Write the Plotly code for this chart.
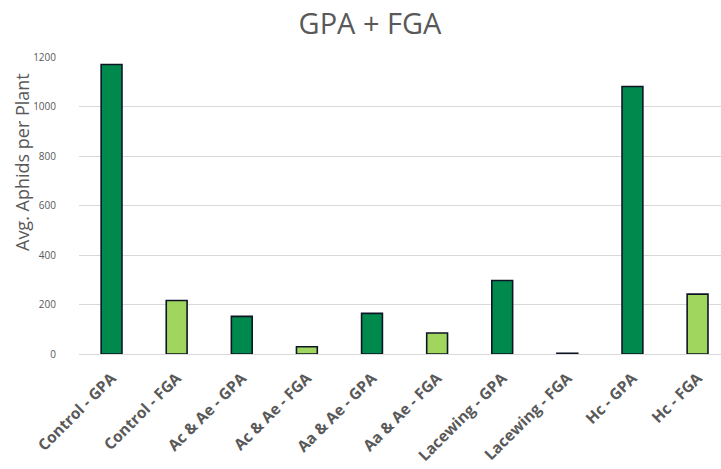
import plotly.graph_objects as go

# Treatment groups and average aphid counts per plant
categories = [
    "Control - GPA", "Control - FGA",
    "Ac & Ae - GPA", "Ac & Ae - FGA",
    "Aa & Ae - GPA", "Aa & Ae - FGA",
    "Lacewing - GPA", "Lacewing - FGA",
    "Hc - GPA", "Hc - FGA",
]
avg_aphids = [1170, 216, 152, 29, 164, 85, 297, 3, 1081, 242]
species = ["GPA", "FGA", "GPA", "FGA", "GPA", "FGA", "GPA", "FGA", "GPA", "FGA"]
y_ticks = [0, 200, 400, 600, 800, 1000, 1200]

colors = {"GPA": "#00894C", "FGA": "#A0D65E"}
bar_colors = [colors[s] for s in species]

TEXT = "#595959"

# plot area in pixels
L, R, T, B = 79, 0, 57, 115
W, H = 721, 469
PW, PH = W - L - R, H - T - B

fig = go.Figure(
    go.Bar(
        x=categories,
        y=avg_aphids,
        marker=dict(color=bar_colors, line=dict(color="#0D1526", width=1.6)),
        showlegend=False,
    )
)

fig.update_layout(
    width=W,
    height=H,
    paper_bgcolor="white",
    plot_bgcolor="white",
    margin=dict(l=L, r=R, t=T, b=B),
    bargap=0.68,
    font=dict(family="Open Sans", color=TEXT),
    title=dict(
        text="GPA + FGA",
        x=370 / W,
        xanchor="center",
        y=1 - 24 / H,
        yanchor="middle",
        font=dict(size=29, color=TEXT, family="Open Sans"),
    ),
)

fig.update_xaxes(
    range=[-0.5, 9.36],
    tickangle=-45,
    tickfont=dict(size=15.5, color=TEXT, family="Open Sans", weight="bold"),
    showline=True,
    linecolor="#D9D9D9",
    linewidth=1,
    ticks="",
    ticklabelstandoff=8,
    showgrid=False,
    automargin=False,
)

fig.update_yaxes(
    range=[0, 1200],
    tickvals=y_ticks,
    tickfont=dict(size=10, color=TEXT, family="Open Sans"),
    showgrid=True,
    gridcolor="#D9D9D9",
    gridwidth=1,
    zeroline=False,
    ticks="",
    ticklabelstandoff=22,
    automargin=False,
)

fig.add_annotation(
    text="Avg. Aphids per Plant",
    x=(22 - L) / PW,
    y=(H - B - 162) / PH,
    xref="paper",
    yref="paper",
    xanchor="center",
    yanchor="middle",
    textangle=-90,
    showarrow=False,
    font=dict(size=18, color=TEXT, family="Open Sans"),
)

fig.write_html("out.html")
